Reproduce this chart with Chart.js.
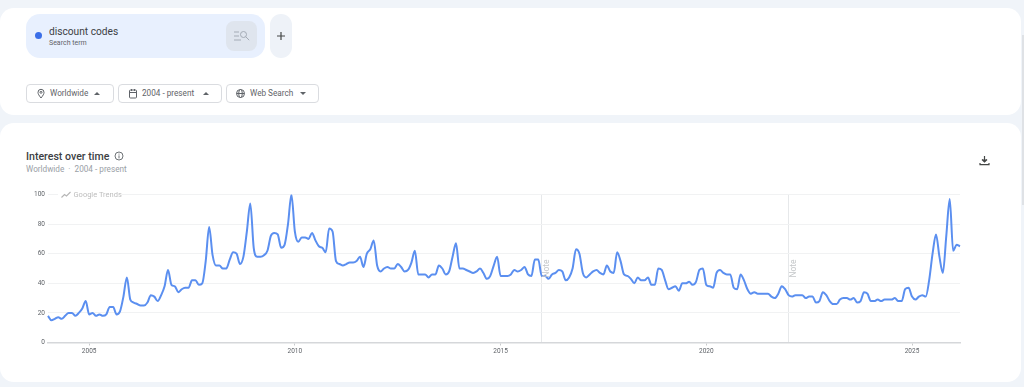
<!DOCTYPE html>
<html><head><meta charset="utf-8">
<script src="https://cdn.jsdelivr.net/npm/chart.js@4/dist/chart.umd.min.js"></script>
<style>
html,body{margin:0;padding:0;width:1024px;height:387px;overflow:hidden;background:#f0f4f9;font-family:Roboto,sans-serif;color:#3c4043}
.a{position:absolute;white-space:nowrap}
.card{position:absolute;background:#fff;border-radius:14px}
.dd{position:absolute;top:84px;height:17px;border:1px solid #dadce0;border-radius:4px;background:#fff;box-sizing:content-box;font-size:8.2px;line-height:17px;color:#5f6368}
.dd span{position:absolute;top:0}
.tri{position:absolute;top:7px;width:0;height:0;border-left:3px solid transparent;border-right:3px solid transparent}
.up{border-bottom:3px solid #5f6368}.down{border-top:3px solid #5f6368}
svg{position:absolute}
canvas{position:absolute;left:0;top:180px}
</style></head><body>
<div class="card" style="left:0;top:8px;width:1021px;height:107px"></div>
<div class="card" style="left:0;top:123px;width:1021px;height:259px"></div>
<div class="a" style="left:1022px;top:35px;width:2px;height:170px;background:#dfe2e6"></div>
<div class="a" style="left:26px;top:14px;width:239px;height:44px;background:#e8f0fe;border-radius:14px"></div>
<div class="a" style="left:34.5px;top:32px;width:7px;height:7px;border-radius:50%;background:#3a6ee8"></div>
<div class="a" style="left:49px;top:25px;font-size:10.2px;line-height:13px;color:#3c4043">discount codes</div>
<div class="a" style="left:49px;top:38px;font-size:7px;line-height:10px;color:#5f6368">Search term</div>
<div class="a" style="left:226px;top:21px;width:31px;height:30px;background:#dfe5ee;border-radius:8px"></div>
<svg style="left:233px;top:29px" width="18" height="14" viewBox="0 0 18 14" fill="none" stroke="#a4abb5" stroke-width="1"><path d="M1 3h5M1 7h5M1 11h7"/><circle cx="10.5" cy="5.5" r="3"/><path d="M12.7 7.7l3.5 3.5"/></svg>
<div class="a" style="left:270px;top:14px;width:22px;height:44px;background:#eef2f8;border-radius:11px"></div>
<svg style="left:276px;top:31px" width="10" height="10" stroke="#444746" stroke-width="1.2"><path d="M5 1v8M1 5h8"/></svg>

<div class="dd" style="left:26px;width:86px"><svg style="left:9px;top:3px" width="10" height="11" fill="none" stroke="#5f6368" stroke-width="1"><path d="M5 10C3 7.5 2 6 2 4.3a3 3 0 0 1 6 0C8 6 7 7.5 5 10z"/><circle cx="5" cy="4.3" r="1"/></svg><span style="left:23px">Worldwide</span><div class="tri up" style="left:67px"></div></div>
<div class="dd" style="left:118px;width:102px"><svg style="left:9px;top:3px" width="10" height="11" fill="none" stroke="#5f6368" stroke-width="1"><rect x="1.5" y="2" width="7" height="8" rx="1"/><path d="M1.5 4.5h7M3.5 1v2M6.5 1v2"/></svg><span style="left:23px">2004 - present</span><div class="tri up" style="left:84px"></div></div>
<div class="dd" style="left:226px;width:91px"><svg style="left:8px;top:3px" width="11" height="11" fill="none" stroke="#5f6368" stroke-width="1"><circle cx="5.5" cy="5.5" r="4"/><ellipse cx="5.5" cy="5.5" rx="1.8" ry="4"/><path d="M1.5 5.5h8"/></svg><span style="left:23px">Web Search</span><div class="tri down" style="left:73px"></div></div>

<div class="a" style="left:26px;top:149px;font-size:10.6px;line-height:15px;font-weight:500;color:#3c4043">Interest over time</div>
<svg style="left:114px;top:151px" width="10" height="10" fill="none" stroke="#5f6368" stroke-width="0.9"><circle cx="5" cy="5" r="4"/><path d="M5 4.4v3M5 2.6v1"/></svg>
<div class="a" style="left:26px;top:163px;font-size:8.2px;line-height:12px;color:#9aa0a6">Worldwide &nbsp;·&nbsp; 2004 - present</div>
<svg style="left:979px;top:155px" width="11" height="11" fill="none" stroke="#444746" stroke-width="1.2"><path d="M5.5 1v5"/><path d="M3 4.5l2.5 2.5L8 4.5" fill="#444746"/><path d="M1 8v1.6h9V8"/></svg>

<canvas id="c" width="1024" height="180"></canvas>
<div class="a" style="left:58px;top:190px;width:64px;height:9px;background:#fff"></div>
<svg style="left:61px;top:190px" width="11" height="9" fill="none" stroke="#b5b5b5" stroke-width="1.1"><path d="M0.5 7.5l3-3 2 1.5 4-4"/></svg>
<div class="a" style="left:73.5px;top:190px;font-size:7.5px;line-height:9px;color:#bdbdbd">Google Trends</div>

<script>
const y2004=[18,15,16,17,16,18,20,20,18,20,23,28];
const y2005=[19,20,18,19,18,19,24,24,19,21,31,44];
const y2006=[29,27,26,25,25,27,32,31,28,32,38,49];
const y2007=[39,38,34,36,37,37,42,42,39,40,55,78];
const y2008=[59,52,52,50,50,56,61,60,53,58,75,94];
const y2009=[64,58,58,59,62,72,74,73,64,66,80,100];
const y2010=[75,68,71,71,70,74,69,65,64,61,77,75];
const y2011=[55,53,52,53,54,54,55,58,51,60,63,69];
const y2012=[52,48,50,51,50,50,53,51,48,49,54,62];
const y2013=[46,46,46,44,46,46,52,50,46,48,58,67];
const y2014=[50,50,49,48,47,48,50,47,43,45,52,58];
const y2015=[45,45,45,46,49,48,49,51,46,45,56,56];
const y2016=[45,45,43,46,47,49,48,42,44,50,63,60];
const y2017=[47,44,46,48,49,47,46,52,48,47,61,55];
const y2018=[46,45,43,40,44,42,42,44,39,39,50,49];
const y2019=[42,36,37,38,35,40,40,41,39,41,49,50];
const y2020=[39,38,37,47,49,47,46,46,37,36,46,42];
const y2021=[36,33,34,33,33,33,33,31,30,33,38,36];
const y2022=[32,31,32,32,32,30,31,31,27,28,34,32];
const y2023=[28,26,26,29,30,30,29,30,27,28,34,33];
const y2024=[28,28,29,28,29,29,29,30,28,28,36,37];
const y2025=[31,29,31,32,31,42,60,73,58,47,72,97];
const y2026=[62,66,65];
const startYear=2004;
const yearSeries=[y2004,y2005,y2006,y2007,y2008,y2009,y2010,y2011,y2012,y2013,y2014,y2015,y2016,y2017,y2018,y2019,y2020,y2021,y2022,y2023,y2024,y2025,y2026];
const values=yearSeries.flat();
const categories=yearSeries.flatMap((s,i)=>s.map((_,m)=>(startYear+i)+'-'+String(m+1).padStart(2,'0')));
const yTicks=[0,20,40,60,80,100];
const xTickYears=['2005','2010','2015','2020','2025'];
const noteMonths=['2016-01','2022-01'];
const isYearTick=l=>l.endsWith('-01')&&xTickYears.includes(l.slice(0,4));

const notes={id:'notes',afterDatasetsDraw(ch){
  const {ctx,scales:{x,y}}=ch;
  noteMonths.forEach(m=>{
    const px=x.getPixelForValue(categories.indexOf(m));
    ctx.save();ctx.translate(px+5.5,y.getPixelForValue(50));ctx.rotate(-Math.PI/2);
    ctx.font='8.5px Roboto';ctx.fillStyle='#c4c7c9';ctx.textAlign='center';ctx.textBaseline='middle';
    ctx.fillText('Note',0,0);ctx.restore();
  });
}};

new Chart(document.getElementById('c'),{
  type:'line',
  data:{labels:categories,datasets:[{data:values,borderColor:'#5b8ff0',borderWidth:2,pointRadius:0,tension:0.4,cubicInterpolationMode:'monotone',fill:false}]},
  plugins:[notes],
  options:{
    responsive:false,animation:false,
    layout:{padding:{left:0,right:64,top:14.5,bottom:0}},
    plugins:{legend:{display:false},tooltip:{enabled:false}},
    scales:{
      x:{type:'category',offset:false,
        afterFit(s){s.height=17.5},
        border:{display:true,color:'#d5d7da',width:1.5},
        grid:{drawTicks:true,tickLength:3,
          color:c=>{const l=categories[c.index];return noteMonths.includes(l)?'#e6e8ea':'rgba(0,0,0,0)'},
          tickColor:c=>{const l=categories[c.index];return isYearTick(l)?'#c8cacc':'rgba(0,0,0,0)'}},
        ticks:{autoSkip:false,maxRotation:0,minRotation:0,padding:2,color:'#5f6368',font:{size:6.5,family:'Roboto'},
          callback(v){const l=categories[v];return isYearTick(l)?l.slice(0,4):''}}
      },
      y:{min:0,max:100,
        afterFit(s){s.width=48},
        afterBuildTicks(s){s.ticks=yTicks.map(v=>({value:v}))},
        border:{display:false},
        grid:{color:'#f1f2f3',drawTicks:false},
        ticks:{padding:3,color:'#5f6368',font:{size:6.5,family:'Roboto'}}
      }
    }
  }
});
</script>
</body></html>
